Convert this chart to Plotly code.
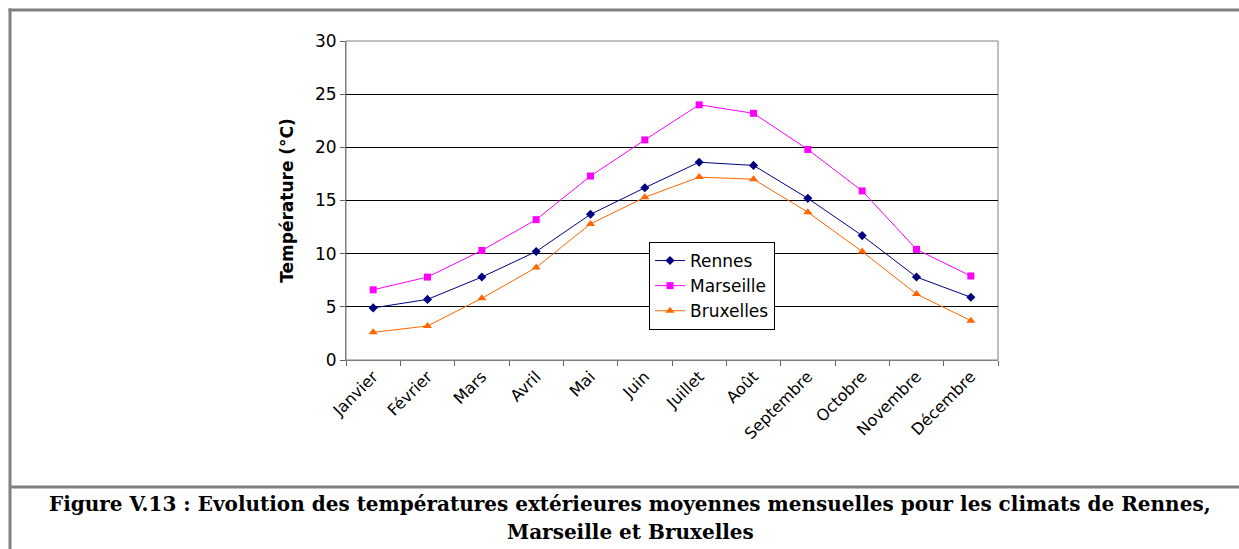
import plotly.graph_objects as go

months = ["Janvier", "Février", "Mars", "Avril", "Mai", "Juin", "Juillet",
          "Août", "Septembre", "Octobre", "Novembre", "Décembre"]
rennes = [4.9, 5.7, 7.8, 10.2, 13.7, 16.2, 18.6, 18.3, 15.2, 11.7, 7.8, 5.9]
marseille = [6.6, 7.8, 10.3, 13.2, 17.3, 20.7, 24.0, 23.2, 19.8, 15.9, 10.4, 7.9]
bruxelles = [2.6, 3.2, 5.8, 8.7, 12.8, 15.3, 17.2, 17.0, 13.9, 10.2, 6.2, 3.7]
y_ticks = [0, 5, 10, 15, 20, 25, 30]

W, H = 1239, 549
L, R, T, B = 346, 998, 41, 360
SANS = "DejaVu Sans, Arial, sans-serif"
SERIF = "DejaVu Serif, Times New Roman, serif"

fig = go.Figure()
fig.add_trace(go.Scatter(x=months, y=rennes, name="Rennes", mode="lines+markers",
                         line=dict(color="#000080", width=1),
                         marker=dict(symbol="diamond", size=7, color="#000080")))
fig.add_trace(go.Scatter(x=months, y=marseille, name="Marseille", mode="lines+markers",
                         line=dict(color="#FF00FF", width=1),
                         marker=dict(symbol="square", size=7, color="#FF00FF")))
fig.add_trace(go.Scatter(x=months, y=bruxelles, name="Bruxelles", mode="lines+markers",
                         line=dict(color="#FF6600", width=1),
                         marker=dict(symbol="triangle-up", size=8, color="#FF6600")))

def px(x):
    return (x - L) / (R - L)

def py(y):
    return (B - y) / (B - T)

shapes = [
    dict(type="line", xref="paper", yref="paper", x0=px(8.5), x1=px(1245), y0=py(10), y1=py(10),
         line=dict(color="#808080", width=3)),
    dict(type="line", xref="paper", yref="paper", x0=px(10), x1=px(10), y0=py(8.5), y1=py(560),
         line=dict(color="#808080", width=3)),
    dict(type="line", xref="paper", yref="paper", x0=px(10), x1=px(1245), y0=py(487), y1=py(487),
         line=dict(color="#808080", width=3)),
    dict(type="rect", xref="paper", yref="paper", x0=0, x1=1, y0=0, y1=1,
         line=dict(color="#808080", width=1), layer="below"),
]

fig.update_layout(
    width=W, height=H,
    margin=dict(l=L, r=W - R, t=T, b=H - B, pad=0),
    paper_bgcolor="white", plot_bgcolor="white",
    font=dict(family=SANS, color="black"),
    showlegend=True,
    legend=dict(x=px(649), y=py(242), xanchor="left", yanchor="top",
                bgcolor="white", bordercolor="black", borderwidth=1,
                font=dict(size=17), tracegroupgap=0, itemwidth=30),
    xaxis=dict(type="category", tickangle=-45, tickfont=dict(size=16),
               showgrid=False, showline=True, linecolor="#808080", linewidth=1,
               ticks="outside", ticklen=5, tickcolor="#606060", tickson="boundaries",
               range=[-0.5, 11.5]),
    yaxis=dict(range=[0, 30], tickvals=y_ticks, tickfont=dict(size=17),
               showgrid=True, gridcolor="black", gridwidth=1,
               showline=True, linecolor="#808080", linewidth=1,
               ticks="outside", ticklen=5, tickcolor="#606060",
               zeroline=False,
               title=dict(text="<b>Température (°C)</b>", font=dict(size=17), standoff=17)),
    shapes=shapes,
    annotations=[
        dict(xref="paper", yref="paper", x=px(630), y=py(504), xanchor="center", yanchor="middle",
             text="<b>Figure V.13 : Evolution des températures extérieures moyennes mensuelles pour les climats de Rennes,</b>",
             showarrow=False, font=dict(family=SERIF, size=20)),
        dict(xref="paper", yref="paper", x=px(630), y=py(532), xanchor="center", yanchor="middle",
             text="<b>Marseille et Bruxelles</b>",
             showarrow=False, font=dict(family=SERIF, size=20)),
    ],
)

fig.write_html("out.html", config={"displayModeBar": False},
               post_script="document.body.style.margin='0px';document.body.style.overflow='hidden';")
